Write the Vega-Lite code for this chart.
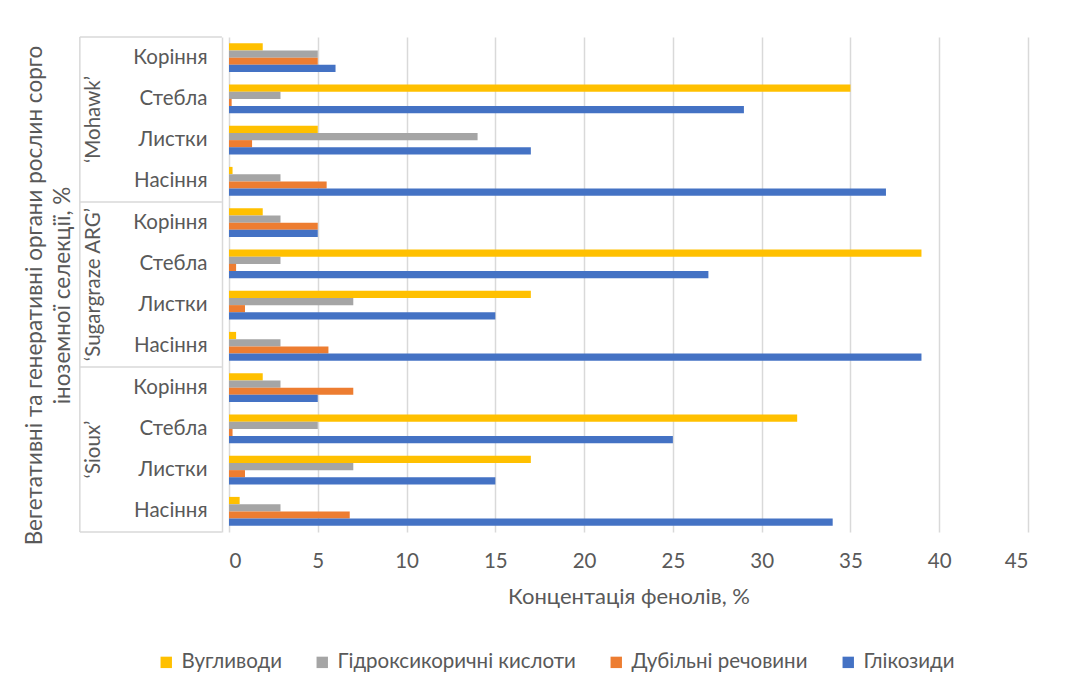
{
  "$schema": "https://vega.github.io/schema/vega-lite/v6.json",
  "width": 799,
  "height": 495,
  "autosize": "none",
  "padding": {"left": 229, "top": 37, "right": 50, "bottom": 161},
  "background": "white",
  "config": {
    "font": "Lato",
    "view": {"stroke": null},
    "axis": {"labelColor": "#595959", "titleColor": "#595959", "labelFont": "Lato", "titleFont": "Lato", "titleFontWeight": "normal"},
    "legend": {"labelFont": "Lato"}
  },
  "data": {
    "values": [
      {"variety": "‘Mohawk’", "organ": "Коріння", "compound": "Вугливоди", "value": 1.9},
      {"variety": "‘Mohawk’", "organ": "Коріння", "compound": "Гідроксикоричні кислоти", "value": 5},
      {"variety": "‘Mohawk’", "organ": "Коріння", "compound": "Дубільні речовини", "value": 5},
      {"variety": "‘Mohawk’", "organ": "Коріння", "compound": "Глікозиди", "value": 6},
      {"variety": "‘Mohawk’", "organ": "Стебла", "compound": "Вугливоди", "value": 35},
      {"variety": "‘Mohawk’", "organ": "Стебла", "compound": "Гідроксикоричні кислоти", "value": 2.9},
      {"variety": "‘Mohawk’", "organ": "Стебла", "compound": "Дубільні речовини", "value": 0.15},
      {"variety": "‘Mohawk’", "organ": "Стебла", "compound": "Глікозиди", "value": 29},
      {"variety": "‘Mohawk’", "organ": "Листки", "compound": "Вугливоди", "value": 5},
      {"variety": "‘Mohawk’", "organ": "Листки", "compound": "Гідроксикоричні кислоти", "value": 14},
      {"variety": "‘Mohawk’", "organ": "Листки", "compound": "Дубільні речовини", "value": 1.3},
      {"variety": "‘Mohawk’", "organ": "Листки", "compound": "Глікозиди", "value": 17},
      {"variety": "‘Mohawk’", "organ": "Насіння", "compound": "Вугливоди", "value": 0.2},
      {"variety": "‘Mohawk’", "organ": "Насіння", "compound": "Гідроксикоричні кислоти", "value": 2.9},
      {"variety": "‘Mohawk’", "organ": "Насіння", "compound": "Дубільні речовини", "value": 5.5},
      {"variety": "‘Mohawk’", "organ": "Насіння", "compound": "Глікозиди", "value": 37},
      {"variety": "‘Sugargraze ARG’", "organ": "Коріння", "compound": "Вугливоди", "value": 1.9},
      {"variety": "‘Sugargraze ARG’", "organ": "Коріння", "compound": "Гідроксикоричні кислоти", "value": 2.9},
      {"variety": "‘Sugargraze ARG’", "organ": "Коріння", "compound": "Дубільні речовини", "value": 5},
      {"variety": "‘Sugargraze ARG’", "organ": "Коріння", "compound": "Глікозиди", "value": 5},
      {"variety": "‘Sugargraze ARG’", "organ": "Стебла", "compound": "Вугливоди", "value": 39},
      {"variety": "‘Sugargraze ARG’", "organ": "Стебла", "compound": "Гідроксикоричні кислоти", "value": 2.9},
      {"variety": "‘Sugargraze ARG’", "organ": "Стебла", "compound": "Дубільні речовини", "value": 0.4},
      {"variety": "‘Sugargraze ARG’", "organ": "Стебла", "compound": "Глікозиди", "value": 27},
      {"variety": "‘Sugargraze ARG’", "organ": "Листки", "compound": "Вугливоди", "value": 17},
      {"variety": "‘Sugargraze ARG’", "organ": "Листки", "compound": "Гідроксикоричні кислоти", "value": 7},
      {"variety": "‘Sugargraze ARG’", "organ": "Листки", "compound": "Дубільні речовини", "value": 0.9},
      {"variety": "‘Sugargraze ARG’", "organ": "Листки", "compound": "Глікозиди", "value": 15},
      {"variety": "‘Sugargraze ARG’", "organ": "Насіння", "compound": "Вугливоди", "value": 0.4},
      {"variety": "‘Sugargraze ARG’", "organ": "Насіння", "compound": "Гідроксикоричні кислоти", "value": 2.9},
      {"variety": "‘Sugargraze ARG’", "organ": "Насіння", "compound": "Дубільні речовини", "value": 5.6},
      {"variety": "‘Sugargraze ARG’", "organ": "Насіння", "compound": "Глікозиди", "value": 39},
      {"variety": "‘Sioux’", "organ": "Коріння", "compound": "Вугливоди", "value": 1.9},
      {"variety": "‘Sioux’", "organ": "Коріння", "compound": "Гідроксикоричні кислоти", "value": 2.9},
      {"variety": "‘Sioux’", "organ": "Коріння", "compound": "Дубільні речовини", "value": 7},
      {"variety": "‘Sioux’", "organ": "Коріння", "compound": "Глікозиди", "value": 5},
      {"variety": "‘Sioux’", "organ": "Стебла", "compound": "Вугливоди", "value": 32},
      {"variety": "‘Sioux’", "organ": "Стебла", "compound": "Гідроксикоричні кислоти", "value": 5},
      {"variety": "‘Sioux’", "organ": "Стебла", "compound": "Дубільні речовини", "value": 0.2},
      {"variety": "‘Sioux’", "organ": "Стебла", "compound": "Глікозиди", "value": 25},
      {"variety": "‘Sioux’", "organ": "Листки", "compound": "Вугливоди", "value": 17},
      {"variety": "‘Sioux’", "organ": "Листки", "compound": "Гідроксикоричні кислоти", "value": 7},
      {"variety": "‘Sioux’", "organ": "Листки", "compound": "Дубільні речовини", "value": 0.9},
      {"variety": "‘Sioux’", "organ": "Листки", "compound": "Глікозиди", "value": 15},
      {"variety": "‘Sioux’", "organ": "Насіння", "compound": "Вугливоди", "value": 0.6},
      {"variety": "‘Sioux’", "organ": "Насіння", "compound": "Гідроксикоричні кислоти", "value": 2.9},
      {"variety": "‘Sioux’", "organ": "Насіння", "compound": "Дубільні речовини", "value": 6.8},
      {"variety": "‘Sioux’", "organ": "Насіння", "compound": "Глікозиди", "value": 34}
    ]
  },
  "transform": [
    {"calculate": "datum.variety + '|' + datum.organ", "as": "key"}
  ],
  "layer": [
    {
      "mark": {"type": "bar"},
      "encoding": {
        "y": {
          "field": "key", "type": "nominal", "sort": null,
          "scale": {"paddingInner": 0, "paddingOuter": 0},
          "axis": {
            "title": ["Вегетативні та генеративні органи рослин сорго", "іноземної селекції, %"],
            "labelExpr": "slice(datum.label, indexof(datum.label, '|') + 1)",
            "labelFontSize": 20.5,
            "labelPadding": 15,
            "offset": 7,
            "ticks": false,
            "grid": false,
            "domain": true,
            "domainColor": "#D9D9D9",
            "domainWidth": 1.5,
            "titleFontSize": 22.5,
            "titleX": -199,
            "titleY": 258,
            "titleAngle": 270,
            "titleAlign": "center",
            "titleBaseline": "top",
            "titleLineHeight": 28
          }
        },
        "yOffset": {
          "field": "compound", "type": "nominal", "sort": null,
          "scale": {"paddingInner": 0, "paddingOuter": 0.85}
        },
        "x": {
          "field": "value", "type": "quantitative",
          "scale": {"domain": [0, 45], "nice": false},
          "axis": {
            "title": "Концентація фенолів, %",
            "values": [0, 5, 10, 15, 20, 25, 30, 35, 40, 45],
            "labelFontSize": 20.5,
            "labelPadding": 19,
            "titleFontSize": 22,
            "titlePadding": 15,
            "ticks": false,
            "domain": false,
            "grid": true,
            "gridColor": "#D9D9D9",
            "gridWidth": 1.5
          }
        },
        "color": {
          "field": "compound", "type": "nominal", "sort": null,
          "scale": {
            "domain": ["Вугливоди", "Гідроксикоричні кислоти", "Дубільні речовини", "Глікозиди"],
            "range": ["#FFC000", "#A5A5A5", "#ED7D31", "#4472C4"]
          },
          "legend": {
            "title": null,
            "orient": "none",
            "direction": "horizontal",
            "legendX": -73,
            "legendY": 615,
            "symbolType": "square",
            "symbolSize": 130,
            "symbolStrokeWidth": 0,
            "labelFontSize": 20.5,
            "labelLimit": 0,
            "labelColor": "#595959",
            "columnPadding": 30,
            "labelOffset": 5
          }
        }
      }
    },
    {
      "transform": [{"filter": "datum.organ == 'Коріння' && datum.compound == 'Вугливоди'"}],
      "mark": {"type": "rule", "color": "#D9D9D9", "strokeWidth": 1.5},
      "encoding": {
        "y": {"field": "key", "type": "nominal", "sort": null, "bandPosition": 0},
        "x": {"datum": -8.4},
        "x2": {"datum": -0.4}
      }
    },
    {
      "transform": [{"filter": "datum.variety == '‘Sioux’' && datum.organ == 'Насіння' && datum.compound == 'Вугливоди'"}],
      "mark": {"type": "rule", "color": "#D9D9D9", "strokeWidth": 1.5},
      "encoding": {
        "y": {"field": "key", "type": "nominal", "sort": null, "bandPosition": 1},
        "x": {"datum": -8.4},
        "x2": {"datum": -0.4}
      }
    },
    {
      "transform": [{"filter": "datum.variety == '‘Sioux’' && datum.organ == 'Насіння' && datum.compound == 'Вугливоди'"}],
      "mark": {"type": "rule", "color": "#D9D9D9", "strokeWidth": 1.5},
      "encoding": {
        "x": {"datum": -8.4}
      }
    },
    {
      "transform": [{"filter": "datum.organ == 'Стебла' && datum.compound == 'Вугливоди'"}],
      "mark": {"type": "text", "angle": 270, "align": "center", "baseline": "middle", "fontSize": 20.5, "color": "#595959", "font": "Lato"},
      "encoding": {
        "y": {"field": "key", "type": "nominal", "sort": null, "bandPosition": 1},
        "x": {"datum": -7.6},
        "text": {"field": "variety"}
      }
    }
  ]
}
